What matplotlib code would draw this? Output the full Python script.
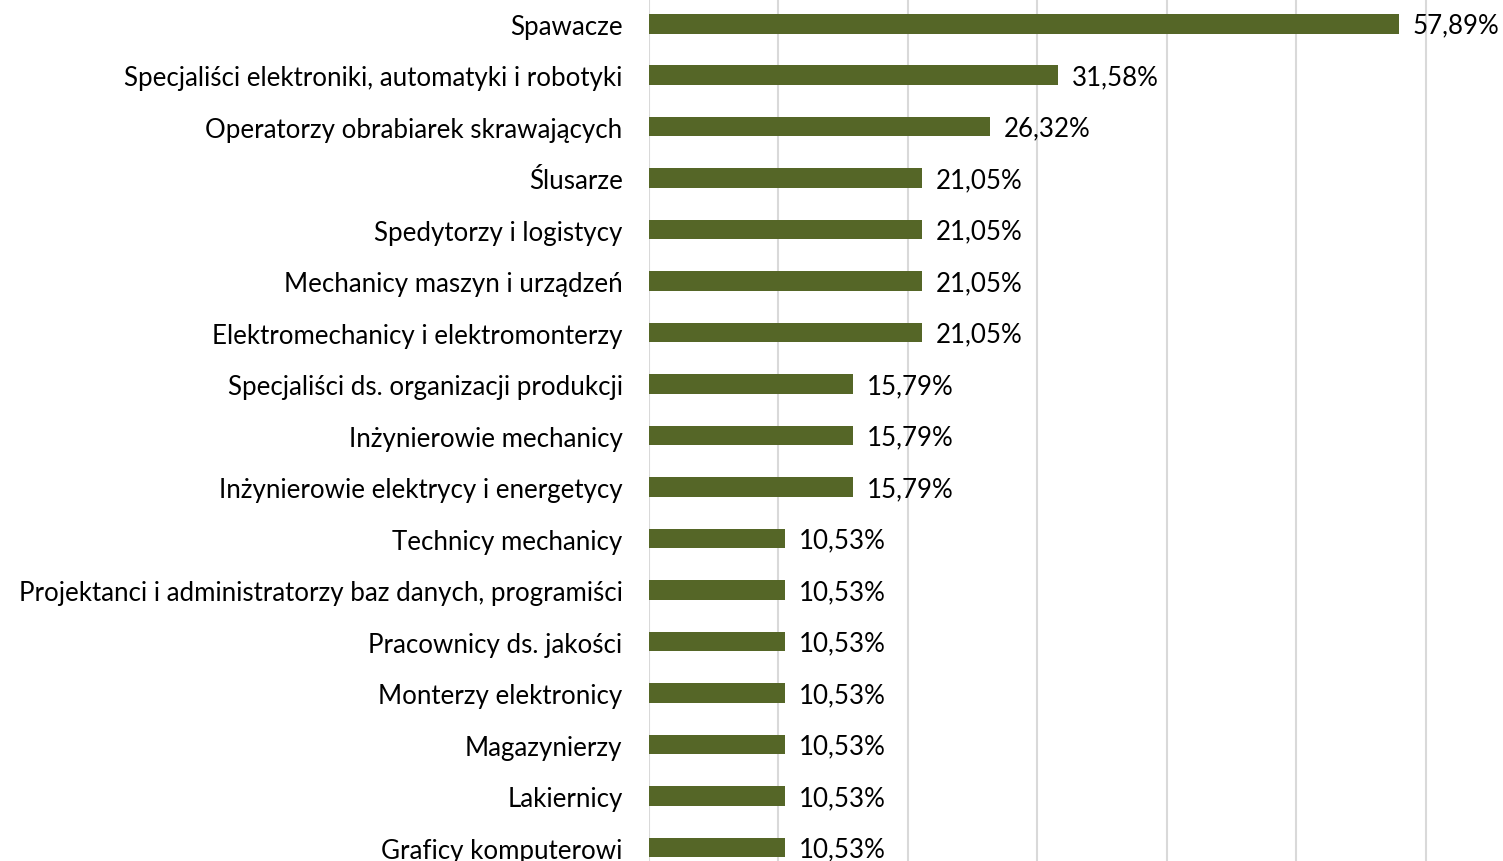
import matplotlib
matplotlib.use("Agg")
import matplotlib.pyplot as plt

plt.rcParams['font.family'] = ['Lato', 'DejaVu Sans']

categories = [
    "Spawacze",
    "Specjaliści elektroniki, automatyki i robotyki",
    "Operatorzy obrabiarek skrawających",
    "Ślusarze",
    "Spedytorzy i logistycy",
    "Mechanicy maszyn i urządzeń",
    "Elektromechanicy i elektromonterzy",
    "Specjaliści ds. organizacji produkcji",
    "Inżynierowie mechanicy",
    "Inżynierowie elektrycy i energetycy",
    "Technicy mechanicy",
    "Projektanci i administratorzy baz danych, programiści",
    "Pracownicy ds. jakości",
    "Monterzy elektronicy",
    "Magazynierzy",
    "Lakiernicy",
    "Graficy komputerowi",
]
values = [57.89, 31.58, 26.32, 21.05, 21.05, 21.05, 21.05,
          15.79, 15.79, 15.79, 10.53, 10.53, 10.53, 10.53, 10.53, 10.53, 10.53]

bar_color = "#556627"
grid_color = "#d9d9d9"
fs = 18.6

fig = plt.figure(figsize=(15.03, 8.62), dpi=100)
ax = fig.add_axes([649 / 1503, 0, 1 - 649 / 1503, 1])

pos = list(range(len(categories)))
bars = ax.barh(pos, values, height=0.38, color=bar_color, zorder=3)

for y, v in zip(pos, values):
    ax.annotate(f"{v:.2f}%".replace(".", ","), xy=(v, y), xytext=(10, -1),
                textcoords="offset points", va="center", ha="left",
                fontsize=fs, color="black", zorder=4)

ax.set_xlim(0, 65.95)
ax.set_ylim(16.26, -0.48)
ax.set_xticks([0, 10, 20, 30, 40, 50, 60])
ax.xaxis.grid(True, color=grid_color, linewidth=1.5, zorder=0)
ax.tick_params(axis='x', which='both', length=0, labelbottom=False)
ax.set_yticks(pos)
ax.set_yticklabels(categories, fontsize=fs)
ax.tick_params(axis='y', length=0, pad=19)
for s in ax.spines.values():
    s.set_visible(False)

fig.savefig("out.png", dpi=100)
